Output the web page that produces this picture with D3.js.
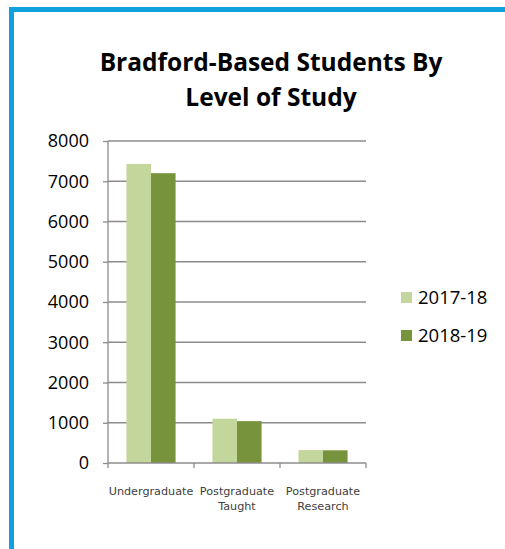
<!DOCTYPE html>
<html>
<head>
<meta charset="utf-8">
<script src="https://cdn.jsdelivr.net/npm/d3@7"></script>
<style>
  html, body { margin: 0; padding: 0; background: #fff; }
  svg { display: block; }
</style>
</head>
<body>
<svg id="chart" width="505" height="549"></svg>
<script>
// Student numbers by level of study
const categories = ["Undergraduate", "Postgraduate Taught", "Postgraduate Research"];
const categoryLines = [["Undergraduate"], ["Postgraduate", "Taught"], ["Postgraduate", "Research"]];
const seriesNames = ["2017-18", "2018-19"];
const values2017 = [7430, 1100, 320];
const values2018 = [7200, 1040, 315];
const yTicks = [0, 1000, 2000, 3000, 4000, 5000, 6000, 7000, 8000];
const colors = ["#c3d69b", "#77933c"];

const svg = d3.select("#chart");

// Frame: blue rule along the top and left
svg.append("rect").attr("x", 9).attr("y", 7).attr("width", 505).attr("height", 5).attr("fill", "#0ea1dd");
svg.append("rect").attr("x", 9).attr("y", 7).attr("width", 5).attr("height", 549).attr("fill", "#0ea1dd");

// Title
const title = svg.append("text")
  .attr("text-anchor", "middle")
  .attr("font-family", "'Open Sans', sans-serif")
  .attr("font-weight", "bold")
  .attr("font-size", 24.5)
  .attr("fill", "#000");
title.append("tspan").attr("x", 271).attr("y", 71).text("Bradford-Based Students By");
title.append("tspan").attr("x", 271).attr("y", 106).text("Level of Study");

const plot = { left: 108, right: 366, top: 141, bottom: 463 };

const x0 = d3.scaleBand().domain(categories).range([plot.left, plot.right]).paddingInner(0).paddingOuter(0);
const x1 = d3.scaleBand().domain(seriesNames).range([0, x0.bandwidth()]).paddingInner(0).paddingOuter(0.75);
const y = d3.scaleLinear().domain([0, 8000]).range([plot.bottom, plot.top]);

// Gridlines
svg.append("g").selectAll("line").data(yTicks.filter(d => d > 0)).join("line")
  .attr("x1", plot.left).attr("x2", plot.right)
  .attr("y1", d => y(d)).attr("y2", d => y(d))
  .attr("stroke", "#8c8c8c").attr("stroke-width", 1.3);

// Bars
const rows = categories.map((c, i) => ({ cat: c, vals: [values2017[i], values2018[i]] }));
const groups = svg.append("g").selectAll("g").data(rows).join("g")
  .attr("transform", d => `translate(${x0(d.cat)},0)`);
groups.selectAll("rect").data(d => d.vals.map((v, j) => ({ key: seriesNames[j], v, j }))).join("rect")
  .attr("x", d => x1(d.key)).attr("width", x1.bandwidth())
  .attr("y", d => y(d.v)).attr("height", d => y(0) - y(d.v))
  .attr("fill", d => colors[d.j]);

// Y axis
const yAxis = svg.append("g").attr("transform", `translate(${plot.left},0)`)
  .call(d3.axisLeft(y).tickValues(yTicks).tickFormat(d3.format("d")).tickSize(5).tickPadding(14));
yAxis.select(".domain").attr("stroke", "#8c8c8c").attr("stroke-width", 1.3).attr("d", `M0,${plot.top}V${plot.bottom}`);
yAxis.selectAll(".tick line").attr("stroke", "#8c8c8c").attr("stroke-width", 1.3);
yAxis.selectAll(".tick text")
  .attr("font-family", "'Open Sans', sans-serif").attr("font-size", 18).attr("fill", "#000");

// X axis with boundary ticks between categories
const xAxisG = svg.append("g");
xAxisG.append("line").attr("x1", plot.left).attr("x2", plot.right)
  .attr("y1", plot.bottom).attr("y2", plot.bottom)
  .attr("stroke", "#8c8c8c").attr("stroke-width", 1.3);
const bounds = categories.map(c => x0(c)).concat([x0(categories[categories.length - 1]) + x0.bandwidth()]);
xAxisG.selectAll("line.b").data(bounds).join("line").attr("class", "b")
  .attr("x1", d => d).attr("x2", d => d)
  .attr("y1", plot.bottom).attr("y2", plot.bottom + 5)
  .attr("stroke", "#8c8c8c").attr("stroke-width", 1.3);

const catText = xAxisG.selectAll("text.cat").data(categoryLines).join("text").attr("class", "cat")
  .attr("text-anchor", "middle")
  .attr("font-family", "'DejaVu Sans', sans-serif")
  .attr("font-size", 11.2)
  .attr("fill", "#404040");
catText.each(function(lines, i) {
  const cx = x0(categories[i]) + x0.bandwidth() / 2;
  d3.select(this).selectAll("tspan").data(lines).join("tspan")
    .attr("x", cx).attr("y", (d, k) => 495 + k * 15).text(d => d);
});

// Legend
const legend = svg.append("g");
seriesNames.forEach((name, i) => {
  const ly = 297 + i * 38;
  legend.append("rect").attr("x", 401).attr("y", ly - 5).attr("width", 11).attr("height", 11).attr("fill", colors[i]);
  legend.append("text").attr("x", 418).attr("y", ly + 7)
    .attr("font-family", "'Open Sans', sans-serif").attr("font-size", 18.5).attr("fill", "#000")
    .text(name);
});
</script>
</body>
</html>
